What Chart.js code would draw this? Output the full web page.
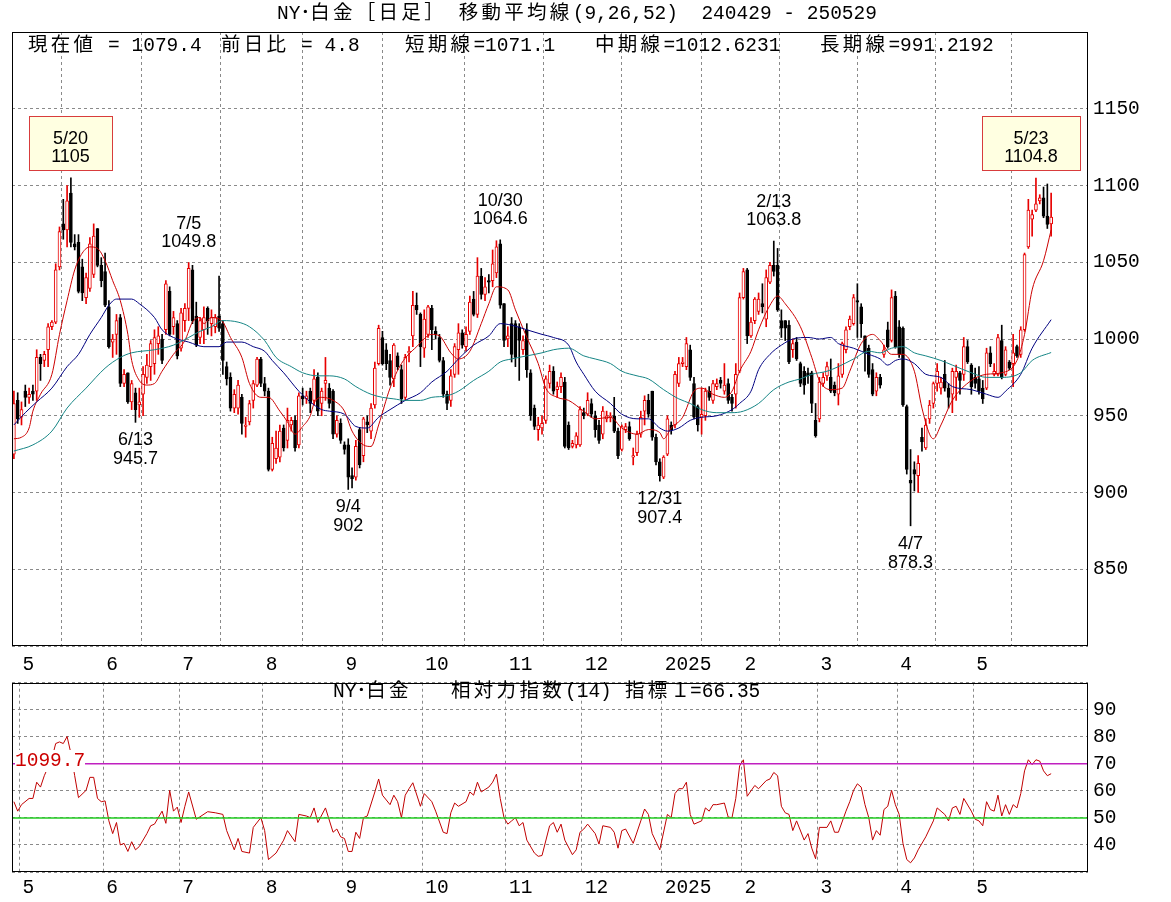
<!DOCTYPE html>
<html lang="ja">
<head>
<meta charset="utf-8">
<title>NY･白金 日足 移動平均線</title>
<script src="https://cdn.jsdelivr.net/npm/chart.js@4.4.1/dist/chart.umd.min.js"></script>
<style>
  html, body { margin: 0; padding: 0; background: #fff; }
  #wrap { position: relative; width: 1171px; height: 902px; overflow: hidden; }
  canvas { position: absolute; left: 0; }
  #priceChart { top: 0; }
  #rsiChart { top: 666px; }
  .txt { position: absolute; font: 19.5px "Liberation Mono", "Noto Sans CJK JP", monospace; line-height: 22px; white-space: pre; color: #000; }
  .k { letter-spacing: 3.3px; }
</style>
</head>
<body>
<div id="wrap">
  <canvas id="priceChart" width="1171" height="676"></canvas>
  <canvas id="rsiChart" width="1171" height="236"></canvas>

  <div class="txt" style="left:277px; top:3px;">NY･<span class="k">白金［日足］</span> <span class="k">移動平均線</span>(9,26,52)  240429 - 250529</div>

  <div class="txt" style="left:28px; top:35px;"><span class="k">現在値</span> = 1079.4</div>
  <div class="txt" style="left:221px; top:35px;"><span class="k">前日比</span> = 4.8</div>
  <div class="txt" style="left:405px; top:35px;"><span class="k">短期線</span>=1071.1</div>
  <div class="txt" style="left:595px; top:35px;"><span class="k">中期線</span>=1012.6231</div>
  <div class="txt" style="left:820px; top:35px;"><span class="k">長期線</span>=991.2192</div>

  <div class="txt" style="left:333px; top:681px;">NY･<span class="k">白金</span></div>
  <div class="txt" style="left:451px; top:681px;"><span class="k">相対力指数</span>(14)</div>
  <div class="txt" style="left:625px; top:681px;"><span class="k">指標</span>１=66.35</div>
  <div class="txt" style="left:15px; top:750px; color:#cc0000; background:#fff;">1099.7</div>
</div>

<script>
// daily bars 2024/04/29 - 2025/05/29
const opens = [
  925, 960, 949, 966, 962, 966, 966, 988, 986, 993,
  1008, 1011, 1047, 1075, 1071, 1095, 1062, 1063, 1047, 1027,
  1033, 1042, 1072, 1048, 1044, 1021, 998, 1003, 1014, 971,
  978, 959, 965, 957, 964, 975, 982, 984, 997, 1000,
  1006, 1031, 1008, 1010, 994, 1012, 1020, 1045, 1015, 1001,
  1006, 1020, 1010, 1008, 1015, 1010, 982, 975, 955, 955,
  962, 943, 946, 960, 970, 987, 971, 966, 915, 922,
  923, 942, 934, 944, 947, 931, 963, 961, 966, 960,
  975, 958, 971, 968, 966, 938, 945, 931, 931, 911,
  910, 941, 924, 946, 940, 957, 984, 1001, 993, 986,
  974, 989, 980, 962, 991, 1002, 1022, 1016, 994, 1003,
  1020, 1005, 1001, 986, 964, 960, 977, 993, 1004, 995,
  1005, 1026, 1016, 1041, 1029, 1038, 1038, 1043, 1062, 1023,
  1000, 1010, 1010, 1008, 993, 1006, 978, 955, 941, 942,
  947, 971, 979, 967, 969, 972, 944, 930, 931, 931,
  952, 951, 958, 950, 944, 938, 948, 949, 950, 940,
  928, 941, 943, 923, 926, 938, 953, 960, 966, 936,
  920, 910, 925, 944, 944, 971, 984, 982, 993, 971,
  956, 949, 950, 966, 960, 969, 973, 966, 971, 962,
  964, 979, 1027, 1045, 1002, 1012, 1018, 1023, 1013, 1037,
  1048, 1048, 1012, 1012, 1009, 993, 998, 984, 979, 978,
  978, 947, 948, 971, 976, 975, 970, 964, 977, 993,
  1008, 1010, 1025, 1021, 1002, 994, 980, 966, 975, 990,
  1006, 999, 1028, 1008, 1007, 956, 908, 915, 911, 936,
  929, 948, 958, 971, 968, 977, 968, 964, 975, 978,
  977, 995, 983, 975, 974, 968, 968, 991, 977, 977,
  999, 977, 985, 984, 995, 990, 1006, 1060, 1078, 1084,
  1090, 1092, 1080, 1075
];
const highs = [
  966, 965, 959, 970, 968, 970, 993, 990, 992, 1010,
  1012, 1049, 1073, 1091, 1100, 1105, 1068, 1068, 1052, 1043,
  1066, 1075, 1072, 1053, 1056, 1025, 1003, 1016, 1016, 980,
  978, 973, 968, 968, 982, 990, 999, 1006, 1008, 1003,
  1038, 1034, 1018, 1012, 1020, 1023, 1049.8, 1048, 1024, 1014,
  1021, 1021, 1019, 1016, 1041, 1012, 985, 978, 967, 973,
  964, 949, 960, 973, 988, 988, 975, 968, 936, 940,
  944, 944, 955, 949, 950, 965, 968, 966, 968, 980,
  978, 968, 988, 971, 967, 950, 948, 933, 935, 916,
  934, 942, 949, 950, 958, 985, 1009, 1005, 997, 990,
  997, 991, 983, 990, 995, 1031, 1030, 1017, 1019, 1022,
  1022, 1008, 1003, 988, 966, 980, 997, 1010, 1006, 1008,
  1028, 1031, 1053, 1046, 1040, 1042, 1058, 1064, 1064.6, 1023,
  1008, 1014, 1012, 1010, 1002, 1010, 980, 957, 949, 950,
  976, 983, 982, 972, 978, 975, 946, 934, 939, 956,
  955, 965, 961, 953, 947, 956, 953, 952, 962, 942,
  944, 945, 946, 929, 940, 953, 963, 964, 966, 938,
  922, 924, 950, 946, 979, 988, 988, 1001, 996, 975,
  957, 968, 968, 969, 973, 974, 975, 984, 974, 964,
  984, 1030, 1046, 1046, 1014, 1027, 1030, 1036, 1045, 1050,
  1063.8, 1059, 1019, 1012, 1012, 1000, 1001, 985, 982, 981,
  979, 958, 975, 978, 985, 987, 972, 984, 998, 1008,
  1015, 1029, 1036, 1023, 1002, 996, 984, 978, 977, 996,
  1011, 1032, 1031, 1012, 1008, 957, 928, 920, 924, 942,
  948, 960, 972, 984, 975, 986, 971, 981, 983, 979,
  1001, 999, 984, 981, 982, 973, 994, 995, 984, 1003,
  1009, 995, 986, 1003, 996, 1008, 1056, 1091, 1084, 1104.8,
  1094, 1099, 1101, 1095
];
const lows = [
  922, 945, 944, 956, 958, 960, 960, 973, 982, 982,
  1006, 1010, 1045, 1065, 1060, 1060, 1058, 1030, 1025, 1023,
  1031, 1040, 1047, 1034, 1021, 994, 988, 990, 969, 969,
  958, 954, 945.7, 949, 950, 971, 973, 977, 990, 984,
  1003, 1002, 1003, 987, 992, 1005, 1012, 1010, 995, 997,
  997, 1003, 1002, 1004, 1005, 977, 970, 953, 952, 951,
  938, 936, 944, 955, 969, 969, 963, 914, 914, 919,
  920, 927, 929, 940, 927, 929, 957, 958, 952, 957,
  950, 950, 960, 955, 935, 936, 932, 925, 902, 903,
  908, 916, 920, 939, 935, 955, 983, 983, 980, 970,
  969, 980, 958, 960, 985, 995, 1016, 982, 988, 1001,
  993, 1000, 985, 962, 954, 956, 975, 977, 994, 992,
  1003, 1015, 1014, 1026, 1025, 1030, 1034, 1040, 1020, 995,
  995, 985, 982, 973, 990, 975, 947, 941, 934, 938,
  945, 968, 964, 962, 965, 929, 928, 929, 929, 930,
  948, 950, 949, 936, 932, 935, 946, 946, 939, 922,
  927, 939, 934, 918, 924, 936, 944, 949, 934, 918,
  907.4, 909, 924, 938, 942, 969, 982, 980, 973, 948,
  940, 938, 947, 960, 958, 967, 968, 964, 958, 953,
  955, 978, 1026, 997, 1001, 1010, 1016, 1017, 1008, 1036,
  1041, 1018, 1001, 999, 984, 988, 986, 969, 964, 971,
  952, 936, 946, 969, 973, 965, 963, 957, 975, 991,
  1006, 1009, 1001, 1001, 979, 975, 963, 963, 968, 988,
  994, 998, 994, 988, 956, 912, 878.3, 901, 900, 927,
  928, 945, 955, 966, 964, 966, 955, 952, 960, 964,
  973, 984, 964, 968, 964, 958, 967, 982, 976, 976,
  974, 976, 980, 969, 988, 988, 1005, 1059, 1067, 1083,
  1088, 1079, 1072, 1067
];
const closes = [
  958, 948, 954, 962, 964, 964, 988, 984, 990, 1008,
  1011, 1045, 1070, 1071, 1090, 1063, 1060, 1031, 1030, 1040,
  1062, 1067, 1048, 1038, 1022, 995, 1000, 1012, 971, 977,
  959, 971, 954, 959, 977, 983, 997, 1001, 1002, 986,
  1036, 1003, 1014, 989, 1017, 1020, 1046, 1012, 996, 1012,
  1014, 1012, 1014, 1014, 1007, 986, 974, 955, 964, 970,
  945, 944, 958, 971, 987, 971, 966, 915, 932, 929,
  940, 929, 947, 947, 929, 963, 961, 963, 958, 974,
  953, 966, 973, 958, 938, 947, 934, 928, 910, 909,
  930, 918, 948, 944, 955, 981, 1007, 984, 984, 975,
  996, 982, 961, 988, 992, 1022, 1019, 995, 1013, 1021,
  1006, 1003, 986, 964, 958, 976, 995, 1004, 996, 1003,
  1024, 1016, 1041, 1029, 1034, 1037, 1049, 1060, 1022, 999,
  1002, 990, 988, 999, 999, 980, 950, 943, 944, 945,
  974, 979, 966, 969, 975, 930, 929, 932, 937, 954,
  950, 960, 951, 941, 934, 953, 950, 950, 940, 924,
  943, 943, 935, 924, 938, 949, 960, 951, 936, 920,
  911, 923, 948, 941, 977, 984, 985, 997, 975, 949,
  944, 951, 966, 962, 971, 971, 971, 970, 960, 958,
  977, 1027, 1044, 1002, 1011, 1026, 1026, 1021, 1040, 1048,
  1044, 1019, 1007, 1007, 985, 997, 987, 971, 970, 976,
  958, 937, 972, 975, 982, 966, 965, 976, 997, 1006,
  1013, 1027, 1024, 1010, 991, 977, 964, 975, 970, 993,
  995, 1027, 995, 990, 957, 915, 906, 912, 919, 933,
  944, 957, 971, 979, 972, 968, 962, 979, 979, 973,
  995, 985, 969, 971, 966, 961, 991, 984, 979, 1001,
  975, 993, 981, 991, 989, 1006, 1055, 1084, 1081, 1088,
  1092, 1080, 1074.6, 1079.4
];

// first bar of each month and its axis label
const monthStarts = [2, 24, 44, 66, 87, 108, 130, 150, 171, 192, 212, 233, 253];
const monthLabels = ['5', '6', '7', '8', '9', '10', '11', '12', '2025', '2', '3', '4', '5'];

// moving averages: [bar, value]
const ma9 = [
  [0,935],[2,936],[4,942],[5,953],[7,964],[10,977],[12,1003],[14,1025],[16,1045],[18,1056],
  [20,1060],[22,1059],[24,1051],[26,1038],[28,1025],[30,1003],[31,986],[33,973],[35,970],[37,971],
  [39,979],[42,990],[45,999],[47,1011],[49,1014],[50,1010],[52,1014],[55,1011],[57,1001],[60,988],
  [62,971],[65,962],[67,962],[70,953],[72,946],[74,938],[76,943],[78,950],[79,958],[81,962],
  [84,960],[87,953],[89,940],[92,931],[94,930],[96,944],[99,968],[102,984],[106,995],[110,1003],
  [112,1002],[115,991],[117,987],[120,992],[123,1010],[125,1023],[127,1034],[130,1032],[132,1019],[135,1001],
  [138,984],[140,968],[143,962],[146,960],[150,953],[153,948],[157,949],[160,942],[164,938],[167,941],
  [170,939],[171,935],[173,942],[176,949],[179,966],[181,968],[184,964],[187,962],[189,966],[191,979],
  [194,992],[196,1006],[199,1022],[201,1028],[203,1023],[207,1008],[210,988],[212,973],[215,967],[218,968],
  [220,979],[223,997],[226,1003],[228,999],[231,990],[234,990],[237,979],[239,955],[241,938],[242,935],
  [244,944],[247,960],[252,973],[256,977],[260,978],[264,986],[266,1003],[268,1032],[271,1051],[273,1071.1]
];
const ma26 = [
  [0,944],[3,952],[6,959],[10,968],[14,982],[17,990],[20,1003],[23,1014],[25,1022],[27,1026],
  [31,1026],[33,1023],[37,1014],[39,1006],[42,1001],[46,998],[50,995],[54,995],[56,998],[60,998],
  [63,995],[66,992],[68,986],[71,978],[75,966],[78,959],[81,954],[83,953],[87,951],[90,943],
  [93,942],[96,949],[99,954],[103,960],[107,965],[110,972],[114,979],[117,987],[121,996],[125,1002],
  [128,1010],[131,1009],[135,1006],[139,1003],[142,1001],[146,996],[148,985],[150,977],[153,966],[157,958],
  [160,951],[164,948],[167,948],[170,942],[172,940],[175,942],[178,947],[181,949],[185,950],[189,954],
  [191,958],[194,966],[196,980],[199,990],[202,996],[205,1000],[209,1001],[212,1000],[215,1001],[217,997],
  [221,994],[225,990],[228,987],[230,983],[232,986],[234,987],[237,984],[240,977],[244,975],[247,969],
  [252,967],[256,964],[259,962],[261,966],[265,977],[268,994],[273,1012.6]
];
const ma52 = [
  [0,927],[5,931],[10,940],[14,955],[19,968],[24,981],[28,988],[31,991],[37,993],[42,996],
  [46,1001],[49,1005],[52,1008],[55,1012],[59,1011],[62,1008],[66,999],[69,988],[73,982],[76,978],
  [80,976],[83,976],[87,974],[90,969],[94,964],[97,962],[100,961],[103,960],[107,960],[110,962],
  [114,963],[117,966],[121,973],[125,979],[128,985],[131,987],[135,989],[139,991],[142,993],[146,994],
  [150,989],[153,987],[157,984],[160,979],[164,976],[167,974],[171,967],[175,961],[178,958],[181,954],
  [185,952],[189,952],[192,953],[196,958],[200,967],[204,972],[207,974],[210,977],[214,979],[217,982],
  [221,987],[225,992],[228,991],[231,994],[234,995],[237,991],[240,989],[244,986],[247,983],[252,978],
  [256,975],[260,975],[265,978],[268,986],[273,991.2]
];

// RSI(14): [bar, value]
const rsi14 = [
  [0,56],[1,52.5],[2,54.9],[4,57.2],[5,57.2],[6,63.2],[7,61.4],[8,65.6],[10,72],[11,77.5],
  [12,78.1],[13,77.5],[14,80.1],[15,73.9],[16,65.6],[17,57.5],[19,60.2],[20,65],[21,65],[22,57.2],
  [23,56],[24,56.3],[25,48.9],[26,44.2],[27,48.3],[28,40],[29,40.6],[30,37.6],[31,41.2],[32,38.2],
  [33,39.4],[35,44.2],[36,47.1],[37,47.7],[39,52.5],[40,48],[41,60.2],[42,52.5],[43,54],[44,48.3],
  [45,54.3],[46,59.6],[48,49.5],[51,52.3],[53,51.9],[55,51.3],[56,45.3],[58,38.2],[59,42.4],[60,37.6],
  [62,37],[63,46.5],[65,50.1],[66,45.3],[67,34.6],[69,37],[71,41.8],[72,45.3],[74,41.2],[75,51.3],
  [77,50.7],[78,50.1],[79,53.7],[80,48.3],[82,53.7],[84,44.7],[85,45.9],[86,43],[87,42.4],[88,37.6],
  [89,37.6],[90,44.7],[91,42.4],[92,50.1],[93,50.7],[95,59.6],[96,64.4],[97,58.4],[99,54.9],[100,58.4],
  [101,56],[102,50.1],[103,58.4],[104,60.8],[105,63],[107,54.3],[108,59],[110,56],[111,52.5],[113,44.7],
  [114,44.2],[115,51.9],[116,55.5],[117,54.3],[119,56],[120,59.6],[121,58.4],[122,63.2],[123,59.6],[125,61.4],
  [126,63.2],[127,66.2],[128,57.2],[129,50.1],[130,47.7],[131,48.9],[132,50.1],[133,47.1],[134,48.3],[135,41.8],
  [137,37],[138,35.8],[139,36.1],[141,47.1],[142,48.3],[143,44.7],[144,47.7],[145,41.8],[147,36.4],[148,38.2],
  [149,44.7],[150,45.9],[151,47.7],[153,44.2],[154,40.3],[155,47.1],[157,46.5],[158,44.7],[159,38.8],[160,45.3],
  [161,45.9],[163,40.6],[165,48.9],[166,53.3],[167,51.3],[168,44.2],[170,38.2],[172,51.3],[173,50.1],[174,59],
  [175,60.8],[176,60.8],[177,63.2],[178,51.3],[179,47.7],[181,48.9],[182,53.7],[183,52.5],[184,54.9],[185,54.9],
  [187,55.5],[188,50.3],[189,50.1],[190,57.2],[191,69.2],[192,71.5],[193,58],[195,62],[196,60.8],[198,63.8],
  [199,64.4],[200,66.8],[201,65.6],[202,54.3],[203,51.9],[204,51.3],[205,45.3],[206,48.9],[208,41.8],[209,44.2],
  [210,38.8],[211,34.9],[212,46.5],[214,46.5],[215,48.9],[216,44.7],[217,44.7],[219,52.5],[220,56],[221,60.2],
  [222,62.6],[223,61.4],[224,54.9],[225,50.1],[226,41.8],[227,45.3],[228,43.6],[229,53.1],[230,54.3],[231,60.2],
  [232,54.9],[233,51.3],[234,40.6],[235,34.6],[236,33.4],[237,35.2],[238,38.2],[240,43],[242,48.9],[243,53.7],
  [245,51.3],[246,48.9],[247,53.7],[248,54.3],[249,51.3],[250,57.2],[252,52.5],[253,49.5],[254,48.9],[255,47.1],
  [256,56],[257,53.1],[258,52.5],[259,58.4],[260,50.7],[261,54.9],[262,51.3],[263,54.9],[264,53.7],[265,59],
  [266,67.4],[267,71.5],[268,69.7],[269,71.5],[270,71],[271,67.4],[272,65.6],[273,66.35]
];
const rsiLevels = [70, 50, 30];

// high / low notes
const noteIdx  = [15, 46, 128, 200, 269, 32, 88, 170, 236];
const noteDate = ['5/20', '7/5', '10/30', '2/13', '5/23', '6/13', '9/4', '12/31', '4/7'];
const noteVal  = ['1105', '1049.8', '1064.6', '1063.8', '1104.8', '945.7', '902', '907.4', '878.3'];
const noteSide = ['box', 'up', 'up', 'up', 'box', 'down', 'down', 'down', 'down'];

const X_MAX = 282.7;
const RED = '#e80000';
const GRID = '#8a8a8a';
const tickFont = { family: '"Liberation Mono", monospace', size: 19.5 };

const up = closes.map((c, i) => c >= opens[i]);
const toXY = pts => pts.map(p => ({ x: p[0], y: p[1] }));

function monthAxis(pad) {
  return {
    type: 'linear',
    min: -0.5,
    max: X_MAX,
    offset: false,
    afterBuildTicks: s => { s.ticks = monthStarts.map(m => ({ value: m - 0.5 })); },
    afterFit: s => { s.height = 30; },
    grid: { color: GRID, drawTicks: false },
    border: { display: false, dash: [3, 3] },
    ticks: {
      autoSkip: false, maxRotation: 0, align: 'start', labelOffset: 3, padding: pad,
      color: '#000', font: tickFont,
      callback: (v, i) => monthLabels[i]
    }
  };
}

function valueAxis(min, max, step) {
  return {
    position: 'right',
    min: min,
    max: max,
    afterFit: s => { s.width = 83; },
    grid: { color: GRID, drawTicks: false },
    border: { display: false, dash: [3, 3] },
    ticks: {
      stepSize: step, autoSkip: false, padding: 5, color: '#000', font: tickFont,
      callback: v => (v > min && v < max) ? v : ''
    }
  };
}

const frame = {
  id: 'frame',
  afterDraw(chart) {
    const { ctx, chartArea: a } = chart;
    ctx.save();
    ctx.strokeStyle = '#000';
    ctx.lineWidth = 1;
    ctx.strokeRect(Math.round(a.left) + 0.5, Math.round(a.top) + 0.5,
      Math.round(a.right - a.left) - 1, Math.round(a.bottom - a.top) - 1);
    ctx.restore();
  }
};

const notes = {
  id: 'notes',
  afterDatasetsDraw(chart) {
    const { ctx, chartArea: a } = chart;
    const x = chart.scales.x, y = chart.scales.y;
    ctx.save();
    ctx.font = '18px "Liberation Sans", Arial, sans-serif';
    ctx.textAlign = 'center';
    ctx.textBaseline = 'middle';
    noteIdx.forEach((idx, k) => {
      const px = x.getPixelForValue(idx);
      const py = y.getPixelForValue(parseFloat(noteVal[k]));
      ctx.fillStyle = '#000';
      if (noteSide[k] === 'down') {
        ctx.fillText(noteDate[k], px, py + 18);
        ctx.fillText(noteVal[k], px, py + 37);
        return;
      }
      let cx = px;
      if (noteSide[k] === 'box') {
        const w = Math.round(Math.max(ctx.measureText(noteDate[k]).width, ctx.measureText(noteVal[k]).width) + 44);
        let left = Math.min(px - w / 2, a.right - 8 - w);
        left = Math.round(Math.max(left, a.left + 8));
        const top = Math.round(py - 62);
        ctx.fillStyle = '#ffffe1';
        ctx.fillRect(left, top, w, 54);
        ctx.strokeStyle = '#d83c3c';
        ctx.lineWidth = 1;
        ctx.strokeRect(left + 0.5, top + 0.5, w, 54);
        cx = left + w / 2;
        ctx.fillStyle = '#000';
      }
      ctx.fillText(noteDate[k], cx, py - 39);
      ctx.fillText(noteVal[k], cx, py - 21);
    });
    ctx.restore();
  }
};

new Chart(document.getElementById('priceChart'), {
  type: 'bar',
  data: {
    datasets: [
      {
        label: 'wick',
        data: highs.map((h, i) => ({ x: i, y: [lows[i], h] })),
        backgroundColor: up.map(u => u ? RED : '#000'),
        borderWidth: 0,
        barThickness: 1,
        grouped: false,
        order: 3
      },
      {
        label: 'body',
        data: opens.map((o, i) => ({ x: i, y: [o, closes[i]] })),
        backgroundColor: up.map(u => u ? '#fff' : '#000'),
        borderColor: up.map(u => u ? RED : '#000'),
        borderWidth: 1,
        borderSkipped: false,
        barThickness: 3,
        grouped: false,
        order: 2
      },
      { type: 'line', label: '52', data: toXY(ma52), borderColor: '#158585', borderWidth: 1, pointRadius: 0, cubicInterpolationMode: 'monotone', order: 1 },
      { type: 'line', label: '26', data: toXY(ma26), borderColor: '#000080', borderWidth: 1, pointRadius: 0, cubicInterpolationMode: 'monotone', order: 1 },
      { type: 'line', label: '9', data: toXY(ma9), borderColor: '#cc0000', borderWidth: 1, pointRadius: 0, cubicInterpolationMode: 'monotone', order: 1 }
    ]
  },
  options: {
    responsive: false,
    animation: false,
    events: [],
    layout: { padding: { left: 12, top: 32, right: 0, bottom: 0 } },
    plugins: { legend: { display: false }, tooltip: { enabled: false } },
    scales: {
      x: monthAxis(7),
      y: valueAxis(800, 1200, 50)
    }
  },
  plugins: [frame, notes]
});

const levelColors = ['#c020c0', '#22cc22', '#a020a0'];

new Chart(document.getElementById('rsiChart'), {
  type: 'line',
  data: {
    datasets: [
      ...rsiLevels.map((lv, k) => ({
        data: [{ x: -0.5, y: lv }, { x: X_MAX, y: lv }],
        borderColor: levelColors[k],
        borderWidth: k === 2 ? 2 : 1.5,
        pointRadius: 0
      })),
      { data: toXY(rsi14), borderColor: '#c00000', borderWidth: 1, pointRadius: 0, tension: 0 }
    ]
  },
  options: {
    responsive: false,
    animation: false,
    events: [],
    layout: { padding: { left: 12, top: 12, right: 0, bottom: 0 } },
    plugins: { legend: { display: false }, tooltip: { enabled: false } },
    scales: {
      x: monthAxis(4),
      y: valueAxis(30, 100, 10)
    }
  },
  plugins: [frame]
});
</script>
</body>
</html>
